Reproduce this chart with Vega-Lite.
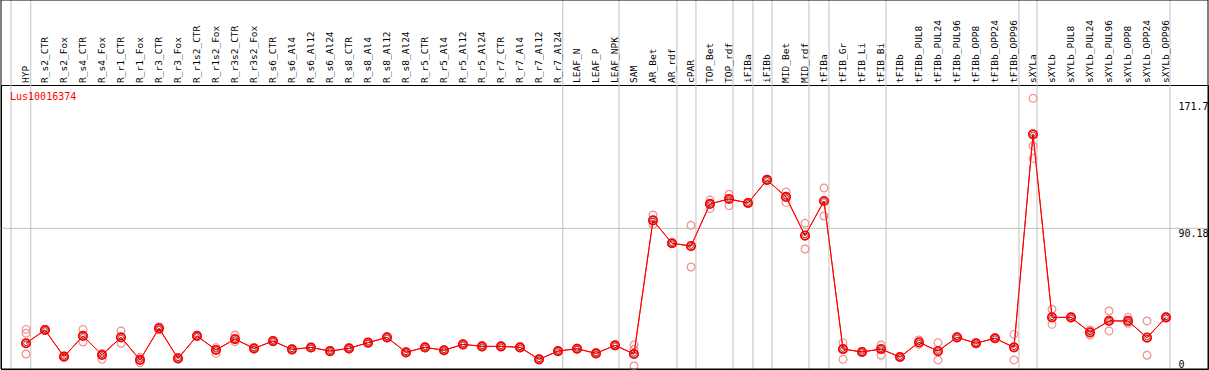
{
  "$schema": "https://vega.github.io/schema/vega-lite/v6.json",
  "width": 1207,
  "height": 284,
  "autosize": "none",
  "padding": {"left": 1, "top": 85, "right": 1, "bottom": 1},
  "background": "white",
  "config": {"view": {"stroke": "black", "strokeWidth": 1}, "axis": {"labelOverlap": false, "labelBound": false, "labelFlush": false, "title": null}},
  "datasets": {
    "means": [
      {"i":0,"s":"HYP","v":16.5},{"i":1,"s":"R_s2_CTR","v":25.0},{"i":2,"s":"R_s2_Fox","v":7.9},{"i":3,"s":"R_s4_CTR","v":21.2},{"i":4,"s":"R_s4_Fox","v":9.0},{"i":5,"s":"R_r1_CTR","v":20.3},{"i":6,"s":"R_r1_Fox","v":5.8},{"i":7,"s":"R_r3_CTR","v":26.1},{"i":8,"s":"R_r3_Fox","v":6.8},{"i":9,"s":"R_r1s2_CTR","v":21.2},{"i":10,"s":"R_r1s2_Fox","v":12.2},{"i":11,"s":"R_r3s2_CTR","v":19.2},{"i":12,"s":"R_r3s2_Fox","v":13.2},{"i":13,"s":"R_s6_CTR","v":17.9},{"i":14,"s":"R_s6_Al4","v":12.6},{"i":15,"s":"R_s6_Al12","v":13.8},{"i":16,"s":"R_s6_Al24","v":11.5},{"i":17,"s":"R_s8_CTR","v":13.2},{"i":18,"s":"R_s8_Al4","v":16.9},{"i":19,"s":"R_s8_Al12","v":20.3},{"i":20,"s":"R_s8_Al24","v":10.7},{"i":21,"s":"R_r5_CTR","v":13.9},{"i":22,"s":"R_r5_Al4","v":12.0},{"i":23,"s":"R_r5_Al12","v":15.8},{"i":24,"s":"R_r5_Al24","v":14.5},{"i":25,"s":"R_r7_CTR","v":14.5},{"i":26,"s":"R_r7_Al4","v":13.9},{"i":27,"s":"R_r7_Al12","v":6.2},{"i":28,"s":"R_r7_Al24","v":11.5},{"i":29,"s":"LEAF_N","v":13.0},{"i":30,"s":"LEAF_P","v":10.0},{"i":31,"s":"LEAF_NPK","v":15.2},{"i":32,"s":"SAM","v":9.6},{"i":33,"s":"AR_Bet","v":95.3},{"i":34,"s":"AR_rdf","v":80.6},{"i":35,"s":"cPAR","v":78.8},{"i":36,"s":"TOP_Bet","v":105.8},{"i":37,"s":"TOP_rdf","v":109.0},{"i":38,"s":"iFIBa","v":106.4},{"i":39,"s":"iFIBb","v":121.2},{"i":40,"s":"MID_Bet","v":110.3},{"i":41,"s":"MID_rdf","v":85.5},{"i":42,"s":"tFIBa","v":107.7},{"i":43,"s":"tFIB_Gr","v":12.8},{"i":44,"s":"tFIB_Li","v":10.9},{"i":45,"s":"tFIB_Bi","v":12.8},{"i":46,"s":"tFIBb","v":7.7},{"i":47,"s":"tFIBb_PUL8","v":17.1},{"i":48,"s":"tFIBb_PUL24","v":11.5},{"i":49,"s":"tFIBb_PUL96","v":20.3},{"i":50,"s":"tFIBb_OPP8","v":16.5},{"i":51,"s":"tFIBb_OPP24","v":19.7},{"i":52,"s":"tFIBb_OPP96","v":13.9},{"i":53,"s":"sXYLa","v":150.4},{"i":54,"s":"sXYLb","v":33.1},{"i":55,"s":"sXYLb_PUL8","v":33.1},{"i":56,"s":"sXYLb_PUL24","v":23.5},{"i":57,"s":"sXYLb_PUL96","v":30.8},{"i":58,"s":"sXYLb_OPP8","v":30.8},{"i":59,"s":"sXYLb_OPP24","v":20.1},{"i":60,"s":"sXYLb_OPP96","v":33.1}
    ],
    "reps": [
      {"i":0,"v":25.4},{"i":0,"v":22.9},{"i":0,"v":9.6},
      {"i":1,"v":25.5},{"i":1,"v":24.6},
      {"i":2,"v":8.3},{"i":2,"v":7.5},
      {"i":3,"v":25.4},{"i":3,"v":17.3},
      {"i":4,"v":10.0},{"i":4,"v":6.2},
      {"i":5,"v":24.4},{"i":5,"v":16.5},
      {"i":6,"v":7.5},{"i":6,"v":4.1},
      {"i":7,"v":27.1},{"i":7,"v":25.0},
      {"i":8,"v":7.3},{"i":8,"v":6.3},
      {"i":9,"v":21.6},{"i":9,"v":20.8},
      {"i":10,"v":13.7},{"i":10,"v":10.0},
      {"i":11,"v":21.8},{"i":11,"v":17.5},
      {"i":12,"v":13.6},{"i":12,"v":12.8},
      {"i":13,"v":18.3},{"i":13,"v":17.5},
      {"i":14,"v":13.0},{"i":14,"v":12.2},
      {"i":15,"v":14.1},{"i":15,"v":13.5},
      {"i":16,"v":11.9},{"i":16,"v":11.1},
      {"i":17,"v":13.6},{"i":17,"v":12.8},
      {"i":18,"v":17.3},{"i":18,"v":16.5},
      {"i":19,"v":20.7},{"i":19,"v":19.9},
      {"i":20,"v":11.1},{"i":20,"v":10.3},
      {"i":21,"v":14.3},{"i":21,"v":13.5},
      {"i":22,"v":12.4},{"i":22,"v":11.6},
      {"i":23,"v":16.2},{"i":23,"v":15.4},
      {"i":24,"v":14.9},{"i":24,"v":14.1},
      {"i":25,"v":14.9},{"i":25,"v":14.1},
      {"i":26,"v":14.3},{"i":26,"v":13.5},
      {"i":27,"v":6.6},{"i":27,"v":5.8},
      {"i":28,"v":11.9},{"i":28,"v":11.1},
      {"i":29,"v":13.4},{"i":29,"v":12.6},
      {"i":30,"v":10.4},{"i":30,"v":9.6},
      {"i":31,"v":15.6},{"i":31,"v":14.8},
      {"i":32,"v":15.4},{"i":32,"v":12.6},{"i":32,"v":1.9},
      {"i":33,"v":98.7},{"i":33,"v":92.7},
      {"i":34,"v":81.0},{"i":34,"v":80.2},
      {"i":35,"v":92.1},{"i":35,"v":65.4},
      {"i":36,"v":108.3},{"i":36,"v":102.8},
      {"i":37,"v":112.0},{"i":37,"v":104.7},
      {"i":38,"v":106.8},{"i":38,"v":106.0},
      {"i":39,"v":121.6},{"i":39,"v":120.8},
      {"i":40,"v":113.5},{"i":40,"v":106.8},
      {"i":41,"v":93.4},{"i":41,"v":76.9},
      {"i":42,"v":116.0},{"i":42,"v":98.1},
      {"i":43,"v":16.9},{"i":43,"v":6.2},
      {"i":44,"v":11.3},{"i":44,"v":10.5},
      {"i":45,"v":15.4},{"i":45,"v":8.8},
      {"i":46,"v":8.1},{"i":46,"v":7.3},
      {"i":47,"v":18.6},{"i":47,"v":15.8},
      {"i":48,"v":16.9},{"i":48,"v":5.8},
      {"i":49,"v":20.7},{"i":49,"v":19.9},
      {"i":50,"v":16.9},{"i":50,"v":16.1},
      {"i":51,"v":20.1},{"i":51,"v":19.3},
      {"i":52,"v":22.2},{"i":52,"v":5.8},
      {"i":53,"v":173.5},{"i":53,"v":143.0},{"i":53,"v":135.0},
      {"i":54,"v":38.3},{"i":54,"v":28.6},
      {"i":55,"v":33.5},{"i":55,"v":32.7},
      {"i":56,"v":25.0},{"i":56,"v":21.8},
      {"i":57,"v":37.2},{"i":57,"v":24.4},
      {"i":58,"v":33.1},{"i":58,"v":29.3},
      {"i":59,"v":30.8},{"i":59,"v":8.8},
      {"i":60,"v":33.5},{"i":60,"v":32.7}
    ],
    "grid": [
      {"x":-0.79},{"x":0.25},{"x":28.25},{"x":31.21},{"x":34.26},{"x":35.26},{"x":37.21},{"x":38.26},{"x":39.26},{"x":41.21},{"x":42.26},{"x":45.26},{"x":52.26},{"x":53.21},{"x":60.21}
    ]
  },
  "layer": [
    {
      "data": {"name": "means"},
      "mark": {"type": "line", "color": "#ff0000", "strokeWidth": 1},
      "encoding": {
        "x": {
          "field": "i", "type": "quantitative",
          "scale": {"domain": [-1.31579, 62.2105], "nice": false, "zero": false},
          "axis": null
        },
        "y": {
          "field": "v", "type": "quantitative",
          "scale": {"domain": [0, 182.05], "nice": false, "zero": false},
          "axis": {
            "orient": "right", "title": null,
            "values": [0, 90.18, 171.7],
            "labelExpr": "datum.value == 0 ? '0' : (datum.value == 90.18 ? '90.18' : '171.7')",
            "labelAlign": "left",
            "labelBaseline": {"condition": {"test": "datum.value == 0", "value": "bottom"}, "value": "top"},
            "labelPadding": -30, "labelFlush": false, "labelOverlap": false, "labelBound": false,
            "labelFont": "DejaVu Sans Mono", "labelFontSize": 10, "labelColor": "black",
            "ticks": false, "domain": false, "grid": false
          }
        }
      }
    },
    {
      "data": {"name": "grid"},
      "mark": {"type": "rule", "color": "#c0c0c0", "strokeWidth": 1},
      "encoding": {
        "x": {"field": "x", "type": "quantitative", "axis": null},
        "y": {"datum": 0, "type": "quantitative"},
        "y2": {"datum": 236.54}
      }
    },
    {
      "data": {"values": [{}]},
      "mark": {"type": "rule", "color": "#c0c0c0", "strokeWidth": 1},
      "encoding": {
        "y": {"datum": 90.18, "type": "quantitative"}
      }
    },
    {
      "data": {"name": "means"},
      "mark": {"type": "text", "color": "black", "font": "DejaVu Sans Mono", "fontSize": 9.5, "angle": 270, "align": "left", "baseline": "middle"},
      "encoding": {
        "x": {"field": "i", "type": "quantitative", "axis": null},
        "y": {"datum": 183.4, "type": "quantitative"},
        "text": {"field": "s", "type": "nominal"}
      }
    },
    {
      "data": {"name": "reps"},
      "mark": {"type": "point", "shape": "circle", "filled": false, "color": "#f09090", "strokeWidth": 1.2, "size": 60, "opacity": 1},
      "encoding": {
        "x": {"field": "i", "type": "quantitative", "axis": null},
        "y": {"field": "v", "type": "quantitative"}
      }
    },
    {
      "data": {"name": "means"},
      "mark": {"type": "line", "color": "#ff0000", "strokeWidth": 1},
      "encoding": {
        "x": {"field": "i", "type": "quantitative", "axis": null},
        "y": {"field": "v", "type": "quantitative"}
      }
    },
    {
      "data": {"name": "means"},
      "mark": {"type": "point", "shape": "circle", "filled": false, "color": "#ff0000", "strokeWidth": 1.8, "size": 70, "opacity": 1},
      "encoding": {
        "x": {"field": "i", "type": "quantitative", "axis": null},
        "y": {"field": "v", "type": "quantitative"}
      }
    },
    {
      "data": {"name": "means"},
      "mark": {"type": "point", "shape": "circle", "filled": false, "color": "#700000", "strokeWidth": 0.8, "size": 22, "opacity": 1},
      "encoding": {
        "x": {"field": "i", "type": "quantitative", "axis": null},
        "y": {"field": "v", "type": "quantitative"}
      }
    },
    {
      "data": {"values": [{"t": "Lus10016374"}]},
      "mark": {"type": "text", "color": "#ff0000", "font": "DejaVu Sans Mono", "fontSize": 10, "align": "left", "baseline": "middle"},
      "encoding": {
        "x": {"datum": -0.842, "type": "quantitative", "axis": null},
        "y": {"datum": 174.36, "type": "quantitative"},
        "text": {"field": "t", "type": "nominal"}
      }
    },
    {
      "data": {"values": [{}]},
      "mark": {"type": "rect", "fill": null, "stroke": "black", "strokeWidth": 1},
      "encoding": {
        "x": {"datum": -1.31579, "type": "quantitative", "axis": null},
        "x2": {"datum": 62.2105},
        "y": {"datum": 0, "type": "quantitative"},
        "y2": {"datum": 236.54}
      }
    }
  ]
}
